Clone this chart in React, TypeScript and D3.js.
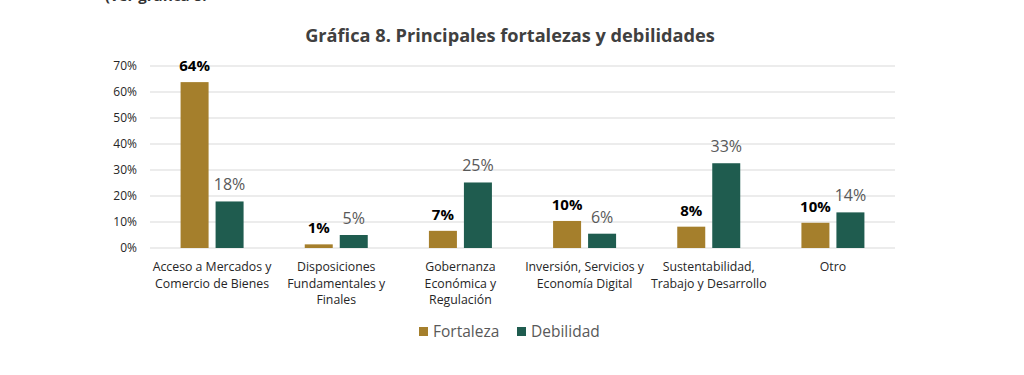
import React from "react";
import * as d3 from "d3";

const categories: string[][] = [
  ["Acceso a Mercados y", "Comercio de Bienes"],
  ["Disposiciones", "Fundamentales y", "Finales"],
  ["Gobernanza", "Económica y", "Regulación"],
  ["Inversión, Servicios y", "Economía Digital"],
  ["Sustentabilidad,", "Trabajo y Desarrollo"],
  ["Otro"],
];
const fortaleza = [63.8, 1.4, 6.6, 10.4, 8.2, 9.7];
const debilidad = [17.9, 5.0, 25.2, 5.5, 32.6, 13.7];
const fortalezaLabels = ["64%", "1%", "7%", "10%", "8%", "10%"];
const debilidadLabels = ["18%", "5%", "25%", "6%", "33%", "14%"];
const yTicks = [0, 10, 20, 30, 40, 50, 60, 70];
const seriesNames = ["Fortaleza", "Debilidad"];

const FONT = "'Open Sans', 'Noto Sans', sans-serif";
const C_F = "#A57F2C";
const C_D = "#1F5C4F";

export default function App() {
  const W = 1024, H = 375;
  const x0 = 150, x1 = 895;
  const y = d3.scaleLinear().domain([0, 70]).range([248, 66]);
  const xb = d3.scaleBand<number>().domain(d3.range(categories.length)).range([x0, x1]);
  const barW = 28, gap = 7;

  return (
    <svg width={W} height={H} style={{ position: "absolute", left: 0, top: 0, background: "#fff" }}>
      <text x={105} y={1} fontFamily={FONT} fontSize={15} fontWeight={700} fill="#333">
        (ver gráfica 8.
      </text>
      <text x={510} y={42} textAnchor="middle" fontFamily={FONT} fontSize={18.2} fontWeight={700} fill="#404040">
        Gráfica 8. Principales fortalezas y debilidades
      </text>
      {yTicks.map((t) => (
        <g key={t}>
          <line x1={x0} x2={x1} y1={y(t)} y2={y(t)} stroke="#d9d9d9" strokeWidth={1} />
          <text x={137} y={y(t) + 4} textAnchor="end" fontFamily={FONT} fontSize={12} fill="#262626">
            {t}%
          </text>
        </g>
      ))}
      {categories.map((lines, i) => {
        const c = (xb(i) as number) + xb.bandwidth() / 2;
        const fx = c - gap / 2 - barW;
        const dx = c + gap / 2;
        return (
          <g key={i}>
            <rect x={fx} y={y(fortaleza[i])} width={barW} height={y(0) - y(fortaleza[i])} fill={C_F} />
            <rect x={dx} y={y(debilidad[i])} width={barW} height={y(0) - y(debilidad[i])} fill={C_D} />
            <text x={fx + barW / 2} y={y(fortaleza[i]) - 11} textAnchor="middle" fontFamily={FONT} fontSize={15} fontWeight={700} fill="#000">
              {fortalezaLabels[i]}
            </text>
            <text x={dx + barW / 2} y={y(debilidad[i]) - 11} textAnchor="middle" fontFamily={FONT} fontSize={16} fill="#595959">
              {debilidadLabels[i]}
            </text>
            {lines.map((l, k) => (
              <text key={k} x={c} y={271 + k * 16.5} textAnchor="middle" fontFamily={FONT} fontSize={12.3} fill="#262626">
                {l}
              </text>
            ))}
          </g>
        );
      })}
      {seriesNames.map((n, i) => {
        const lx = i === 0 ? 419 : 517;
        return (
          <g key={n}>
            <rect x={lx} y={327} width={9} height={9} fill={i === 0 ? C_F : C_D} />
            <text x={lx + 14} y={337} fontFamily={FONT} fontSize={15.5} fill="#595959">
              {n}
            </text>
          </g>
        );
      })}
    </svg>
  );
}
